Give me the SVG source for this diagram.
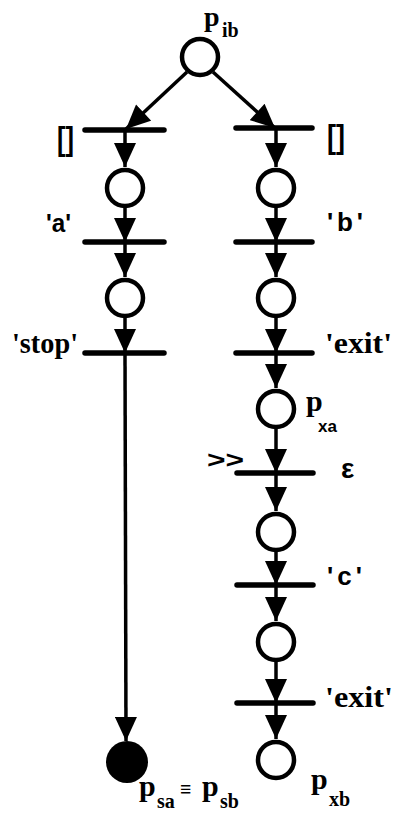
<svg xmlns="http://www.w3.org/2000/svg" width="394" height="818" viewBox="0 0 394 818">
<style>
.pl{fill:#fff;stroke:#000;stroke-width:4.5}
.tr{stroke:#000;stroke-width:5.5;stroke-linecap:round}
.arc{stroke:#000;stroke-width:3.5;fill:none}
.serif{font-family:"Liberation Serif","Times New Roman",serif;font-weight:bold;fill:#000}
.sans{font-family:"Liberation Sans",Arial,sans-serif;font-weight:bold;fill:#000}
</style>
<defs>
<marker id="ah" viewBox="0 0 24 22" refX="24" refY="11" markerWidth="25" markerHeight="22" markerUnits="userSpaceOnUse" orient="auto">
<path d="M0,0 L24,11 L0,22 Z" fill="#000"/>
</marker>
</defs>
<rect width="394" height="818" fill="#fff"/>
<g id="connectors">
<line class="arc" x1="187" y1="72" x2="126" y2="129" marker-end="url(#ah)"/>
<line class="arc" x1="213" y1="72" x2="275" y2="128" marker-end="url(#ah)"/>
<line class="arc" x1="125" y1="130" x2="125" y2="167" marker-end="url(#ah)"/>
<line class="arc" x1="276" y1="128" x2="276" y2="167" marker-end="url(#ah)"/>
<line class="arc" x1="125" y1="208" x2="125" y2="242" marker-end="url(#ah)"/>
<line class="arc" x1="276" y1="208" x2="276" y2="242" marker-end="url(#ah)"/>
<line class="arc" x1="125" y1="242" x2="125" y2="277" marker-end="url(#ah)"/>
<line class="arc" x1="276" y1="242" x2="276" y2="277" marker-end="url(#ah)"/>
<line class="arc" x1="125" y1="318" x2="125" y2="353" marker-end="url(#ah)"/>
<line class="arc" x1="276" y1="318" x2="276" y2="353" marker-end="url(#ah)"/>
<line class="arc" x1="125" y1="353" x2="126" y2="741" marker-end="url(#ah)"/>
<line class="arc" x1="276" y1="353" x2="276" y2="388" marker-end="url(#ah)"/>
<line class="arc" x1="276" y1="429" x2="276" y2="473" marker-end="url(#ah)"/>
<line class="arc" x1="276" y1="473" x2="276" y2="511" marker-end="url(#ah)"/>
<line class="arc" x1="276" y1="552" x2="276" y2="585" marker-end="url(#ah)"/>
<line class="arc" x1="276" y1="585" x2="276" y2="621" marker-end="url(#ah)"/>
<line class="arc" x1="276" y1="662" x2="276" y2="703" marker-end="url(#ah)"/>
<line class="arc" x1="276" y1="703" x2="276" y2="739" marker-end="url(#ah)"/>
</g>
<g id="p_ib">
<circle class="pl" cx="200" cy="57" r="18"/>
<text class="serif" x="204" y="26" font-size="28">p</text>
<text class="serif" x="222" y="37" font-size="20">ib</text>
</g>
<g id="t_choice_left">
<line class="tr" x1="85" y1="130" x2="164" y2="130"/>
<text class="sans" x="57" y="150" font-size="34" textLength="17" lengthAdjust="spacingAndGlyphs">[]</text>
</g>
<g id="t_choice_right">
<line class="tr" x1="236" y1="128" x2="312" y2="128"/>
<text class="sans" x="327" y="148" font-size="34" textLength="18" lengthAdjust="spacingAndGlyphs">[]</text>
</g>
<g id="p_a1"><circle class="pl" cx="125" cy="188" r="18"/></g>
<g id="p_b1"><circle class="pl" cx="276" cy="188" r="18"/></g>
<g id="t_a">
<line class="tr" x1="85" y1="242" x2="164" y2="242"/>
<text class="sans" x="46" y="232" font-size="26" textLength="25" lengthAdjust="spacingAndGlyphs">'a'</text>
</g>
<g id="t_b">
<line class="tr" x1="236" y1="242" x2="312" y2="242"/>
<text class="sans" x="327" y="231" font-size="26" textLength="36" lengthAdjust="spacing">'b'</text>
</g>
<g id="p_a2"><circle class="pl" cx="125" cy="298" r="18"/></g>
<g id="p_b2"><circle class="pl" cx="276" cy="298" r="18"/></g>
<g id="t_stop">
<line class="tr" x1="85" y1="353" x2="164" y2="353"/>
<text class="serif" x="12" y="353" font-size="30" textLength="66" lengthAdjust="spacingAndGlyphs">'stop'</text>
</g>
<g id="t_exit1">
<line class="tr" x1="236" y1="353" x2="312" y2="353"/>
<text class="serif" x="325" y="353" font-size="30" textLength="67" lengthAdjust="spacingAndGlyphs">'exit'</text>
</g>
<g id="p_xa">
<circle class="pl" cx="276" cy="409" r="18"/>
<text class="serif" x="306" y="411" font-size="30">p</text>
<text class="sans" x="318" y="432" font-size="17">xa</text>
</g>
<g id="t_eps">
<line class="tr" x1="237" y1="473" x2="313" y2="473"/>
<text class="sans" x="207" y="468" font-size="24" textLength="37" lengthAdjust="spacingAndGlyphs">&gt;&gt;</text>
<text class="sans" x="341" y="478" font-size="28">ε</text>
</g>
<g id="p_c1"><circle class="pl" cx="276" cy="532" r="18"/></g>
<g id="t_c">
<line class="tr" x1="237" y1="585" x2="313" y2="585"/>
<text class="sans" x="327" y="585" font-size="26" textLength="35" lengthAdjust="spacing">'c'</text>
</g>
<g id="p_c2"><circle class="pl" cx="276" cy="642" r="18"/></g>
<g id="t_exit2">
<line class="tr" x1="237" y1="703" x2="313" y2="703"/>
<text class="serif" x="325" y="707" font-size="30" textLength="68" lengthAdjust="spacingAndGlyphs">'exit'</text>
</g>
<g id="p_xb">
<circle class="pl" cx="276" cy="760" r="18"/>
<text class="serif" x="311" y="789" font-size="30">p</text>
<text class="serif" x="329" y="806" font-size="20">xb</text>
</g>
<g id="p_sa">
<circle cx="127" cy="762" r="21" fill="#000"/>
<text class="serif" x="139" y="796" font-size="30">p</text>
<text class="serif" x="157" y="808" font-size="20">sa</text>
<text class="serif" x="180" y="796" font-size="20">≡</text>
<text class="serif" x="202" y="796" font-size="30">p</text>
<text class="serif" x="220" y="808" font-size="20">sb</text>
</g>
</svg>
